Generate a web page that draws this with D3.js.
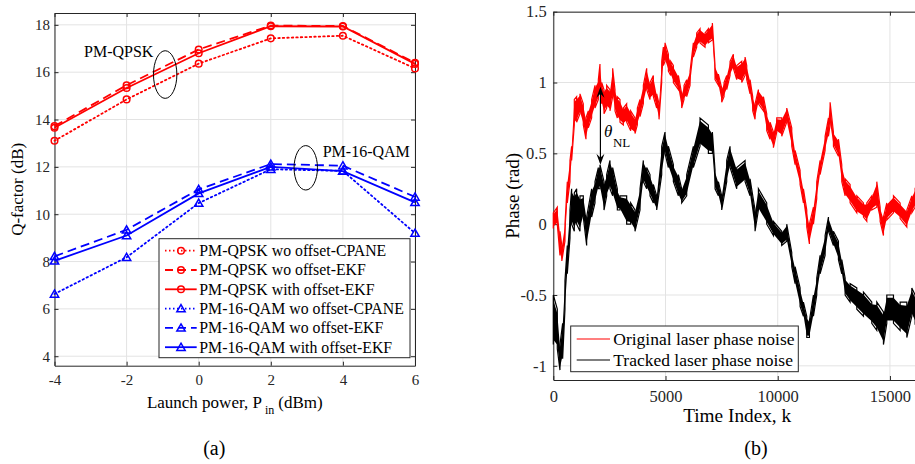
<!DOCTYPE html>
<html>
<head>
<meta charset="utf-8">
<script src="https://cdn.jsdelivr.net/npm/d3@7"></script>
<style>
  body { margin: 0; background: #fff; }
  svg { display: block; font-family: "Liberation Serif", "Times New Roman", serif; }
  svg text { font-family: "Liberation Serif", "Times New Roman", serif; }
</style>
</head>
<body>
<svg id="chart" width="915" height="464"></svg>
<script>
// (a) Q-factor vs launch power
const launchPower = [-4, -2, 0, 2, 4, 6];
const qpskCpane      = [13.1, 14.85, 16.36, 17.43, 17.54, 16.16];
const qpskEkf        = [13.72, 15.45, 16.96, 17.97, 17.95, 16.4];
const qpskOffsetEkf  = [13.65, 15.33, 16.8, 17.94, 17.93, 16.35];
const qamCpane       = [6.63, 8.18, 10.47, 11.9, 11.83, 9.2];
const qamEkf         = [8.22, 9.34, 11.05, 12.12, 12.05, 10.73];
const qamOffsetEkf   = [8.03, 9.1, 10.88, 12.0, 11.82, 10.5];
const xTicksA = [-4, -2, 0, 2, 4, 6];
const yTicksA = [4, 6, 8, 10, 12, 14, 16, 18];

// (b) laser phase noise, read as [k, low, high] envelope of the noisy trace
const originalPhase = [
  [0, -0.03, 0.08], [178, 0.0, 0.12], [297, -0.22, -0.05], [380, -0.26, -0.15], [520, -0.12, 0.0],
  [624, 0.15, 0.3], [743, 0.3, 0.45], [817, 0.45, 0.55], [936, 0.7, 0.88], [1040, 0.72, 0.9],
  [1189, 0.78, 0.92], [1337, 0.7, 0.85], [1456, 0.6, 0.75], [1560, 0.68, 0.8], [1709, 0.75, 0.88],
  [1858, 0.82, 0.98], [2006, 0.88, 1.02], [2080, 0.95, 1.13], [2155, 0.85, 1.0], [2259, 0.78, 0.95],
  [2378, 0.82, 0.98], [2526, 0.8, 0.95], [2645, 0.9, 1.1], [2749, 0.8, 0.95], [2853, 0.75, 0.9],
  [2972, 0.72, 0.88], [3121, 0.7, 0.82], [3269, 0.72, 0.85], [3448, 0.66, 0.8], [3641, 0.64, 0.75],
  [3745, 0.7, 0.82], [3864, 0.76, 0.88], [4012, 0.85, 0.98], [4161, 0.95, 1.1], [4309, 0.88, 1.0],
  [4458, 0.9, 1.05], [4607, 0.82, 0.92], [4711, 0.74, 0.85], [4830, 1.0, 1.15], [4904, 1.12, 1.25],
  [4978, 1.15, 1.28], [5127, 1.08, 1.2], [5231, 1.05, 1.15], [5350, 1.0, 1.12], [5573, 0.95, 1.05],
  [5721, 0.82, 0.92], [5825, 0.88, 0.98], [5944, 0.9, 1.02], [6093, 0.98, 1.08], [6241, 1.18, 1.28],
  [6390, 1.25, 1.35], [6538, 1.28, 1.38], [6761, 1.25, 1.35], [6910, 1.28, 1.38], [7088, 1.3, 1.42],
  [7207, 1.02, 1.12], [7356, 0.98, 1.06], [7504, 0.86, 0.96], [7608, 0.9, 1.0], [7727, 0.95, 1.05],
  [7876, 1.05, 1.15], [8024, 1.1, 1.2], [8173, 1.02, 1.12], [8396, 1.0, 1.15], [8545, 1.05, 1.18],
  [8619, 1.02, 1.12], [8767, 0.92, 1.02], [8886, 0.8, 0.9], [8990, 0.74, 0.85], [9139, 0.85, 0.95],
  [9362, 0.8, 0.9], [9510, 0.66, 0.78], [9659, 0.6, 0.72], [9808, 0.54, 0.65], [9956, 0.65, 0.75],
  [10179, 0.62, 0.75], [10402, 0.72, 0.82], [10625, 0.55, 0.68], [10774, 0.42, 0.52], [10996, 0.28, 0.38],
  [11145, 0.15, 0.25], [11294, -0.02, 0.1], [11412, -0.14, 0.0], [11591, 0.0, 0.12], [11739, 0.18, 0.3],
  [11888, 0.35, 0.45], [12111, 0.52, 0.62], [12260, 0.62, 0.75], [12334, 0.7, 0.86], [12482, 0.55, 0.65],
  [12705, 0.48, 0.6], [12854, 0.3, 0.42], [13003, 0.2, 0.32], [13225, 0.15, 0.28], [13523, 0.08, 0.2],
  [13820, 0.05, 0.15], [13968, 0.02, 0.15], [14191, 0.1, 0.2], [14414, 0.12, 0.3], [14563, 0.02, 0.12],
  [14711, -0.08, 0.05], [14860, 0.03, 0.15], [15157, 0.08, 0.2], [15454, 0.04, 0.15], [15752, -0.02, 0.1],
  [15975, 0.08, 0.2], [16123, 0.12, 0.25], [16384, 0.1, 0.22]
];
const trackedPhase = [
  [0, -0.85, -0.5], [178, -0.88, -0.6], [297, -1.03, -0.85], [416, -0.95, -0.7], [520, -0.6, -0.4],
  [624, -0.35, -0.15], [743, -0.1, 0.1], [817, 0.0, 0.25], [936, -0.05, 0.22], [1040, 0.0, 0.25],
  [1189, -0.05, 0.2], [1337, 0.05, 0.2], [1486, -0.15, 0.05], [1709, 0.05, 0.25], [1858, 0.15, 0.3],
  [2006, 0.25, 0.4], [2080, 0.25, 0.42], [2259, 0.1, 0.3], [2378, 0.2, 0.35], [2526, 0.25, 0.45],
  [2645, 0.2, 0.4], [2853, 0.1, 0.25], [2972, 0.1, 0.2], [3269, 0.0, 0.2], [3448, 0.0, 0.15],
  [3641, -0.05, 0.1], [3864, 0.1, 0.25], [4012, 0.3, 0.45], [4161, 0.25, 0.4], [4309, 0.2, 0.35],
  [4458, 0.15, 0.28], [4607, 0.1, 0.2], [4830, 0.35, 0.55], [4978, 0.5, 0.65], [5127, 0.4, 0.55],
  [5350, 0.3, 0.42], [5573, 0.2, 0.35], [5721, 0.15, 0.25], [5944, 0.2, 0.35], [6241, 0.4, 0.55],
  [6538, 0.55, 0.75], [6910, 0.5, 0.7], [7088, 0.5, 0.65], [7207, 0.25, 0.38], [7356, 0.2, 0.3],
  [7504, 0.1, 0.2], [7727, 0.3, 0.45], [7876, 0.4, 0.55], [8173, 0.25, 0.4], [8545, 0.3, 0.45],
  [8767, 0.2, 0.32], [8990, -0.05, 0.1], [9139, 0.1, 0.25], [9510, 0.0, 0.15], [9808, -0.08, 0.02],
  [10179, -0.15, -0.05], [10402, -0.12, 0.0], [10625, -0.3, -0.2], [10774, -0.42, -0.3], [10996, -0.58, -0.45],
  [11145, -0.65, -0.55], [11294, -0.8, -0.65], [11412, -0.8, -0.68], [11591, -0.65, -0.5], [11739, -0.5, -0.38],
  [11888, -0.35, -0.22], [12111, -0.22, -0.08], [12260, -0.05, 0.05], [12482, -0.15, -0.05], [12705, -0.25, -0.12],
  [12854, -0.35, -0.25], [13003, -0.5, -0.38], [13225, -0.55, -0.42], [13523, -0.6, -0.45], [13820, -0.65, -0.48],
  [14191, -0.7, -0.55], [14414, -0.75, -0.55], [14711, -0.85, -0.62], [14860, -0.7, -0.5], [15157, -0.7, -0.5],
  [15454, -0.75, -0.55], [15752, -0.8, -0.55], [15975, -0.65, -0.45], [16123, -0.7, -0.5], [16384, -0.65, -0.45]
];
const xTicksB = [0, 5000, 10000, 15000];
const yTicksB = [-1, -0.5, 0, 0.5, 1, 1.5];

const AXIS_COLOR = "#262626";
const GRID_COLOR = "#e3e3e3";
const RED = "#ff0000", BLUE = "#0000ff";
const SERIF = '"Liberation Serif", "Times New Roman", serif';

const svg = d3.select("#chart");

//Draws grid, box and inward ticks for one panel
function drawFrame(x, y, xTicks, yTicks, fontSize, padX, padY) {
  const [x0, x1] = x.range();
  const [y0, y1] = y.range();
  const g = svg.append("g");

  g.selectAll(".gx").data(xTicks).join("line")
    .attr("x1", d => x(d)).attr("x2", d => x(d))
    .attr("y1", y0).attr("y2", y1)
    .attr("stroke", GRID_COLOR);
  g.selectAll(".gy").data(yTicks).join("line")
    .attr("x1", x0).attr("x2", x1)
    .attr("y1", d => y(d)).attr("y2", d => y(d))
    .attr("stroke", GRID_COLOR);

  const axes = svg.append("g").attr("class", "axes");
  axes.append("g").attr("transform", `translate(0,${y0})`)
    .call(d3.axisBottom(x).tickValues(xTicks).tickSizeInner(-4).tickSizeOuter(0).tickPadding(padX).tickFormat(d => d));
  axes.append("g").attr("transform", `translate(0,${y1})`)
    .call(d3.axisTop(x).tickValues(xTicks).tickSizeInner(-4).tickSizeOuter(0).tickFormat(""));
  axes.append("g").attr("transform", `translate(${x0},0)`)
    .call(d3.axisLeft(y).tickValues(yTicks).tickSizeInner(-4).tickSizeOuter(0).tickPadding(padY).tickFormat(d => d));
  axes.append("g").attr("transform", `translate(${x1},0)`)
    .call(d3.axisRight(y).tickValues(yTicks).tickSizeInner(-4).tickSizeOuter(0).tickFormat(""));

  //d3 puts sans-serif on each axis group; switch back to the serif face
  axes.selectAll("g").attr("font-family", SERIF).attr("font-size", fontSize);
  axes.selectAll("path.domain").attr("stroke", AXIS_COLOR).attr("stroke-width", 1);
  axes.selectAll(".tick line").attr("stroke", AXIS_COLOR);
  axes.selectAll(".tick text")
    .attr("fill", AXIS_COLOR)
    .attr("font-family", SERIF)
    .attr("font-size", fontSize);
  return g;
}

function marker(sel, shape, color) {
  if (shape === "circle") {
    sel.append("circle").attr("r", 3.3)
      .attr("fill", "none").attr("stroke", color).attr("stroke-width", 1.5);
  } else {
    sel.append("path").attr("d", d3.symbol(d3.symbolTriangle, 30)())
      .attr("transform", "translate(0,0.8)")
      .attr("fill", "none").attr("stroke", color).attr("stroke-width", 1.5);
  }
}

// ---------- panel (a) ----------
const xA = d3.scaleLinear().domain([-4, 6]).range([54.5, 415]);
const yA = d3.scaleLinear().domain([3.6, 18.5]).range([365.7, 13]);
drawFrame(xA, yA, xTicksA, yTicksA, 15, 8.7, 4.5);

const seriesA = [
  { name: "PM-QPSK wo offset-CPANE", values: qpskCpane, color: RED, dash: "1.5,3", shape: "circle" },
  { name: "PM-QPSK wo offset-EKF", values: qpskEkf, color: RED, dash: "9,5", shape: "circle" },
  { name: "PM-QPSK with offset-EKF", values: qpskOffsetEkf, color: RED, dash: null, shape: "circle" },
  { name: "PM-16-QAM wo offset-CPANE", values: qamCpane, color: BLUE, dash: "1.5,3", shape: "tri" },
  { name: "PM-16-QAM wo offset-EKF", values: qamEkf, color: BLUE, dash: "9,5", shape: "tri" },
  { name: "PM-16-QAM with offset-EKF", values: qamOffsetEkf, color: BLUE, dash: null, shape: "tri" }
];

const lineA = d3.line().x((d, i) => xA(launchPower[i])).y(d => yA(d));
const plotA = svg.append("g");
seriesA.forEach(s => {
  plotA.append("path").datum(s.values)
    .attr("d", lineA)
    .attr("fill", "none")
    .attr("stroke", s.color)
    .attr("stroke-width", 1.8)
    .attr("stroke-linecap", s.dash && s.dash.startsWith("1.5") ? "round" : "butt")
    .attr("stroke-dasharray", s.dash);
  s.values.forEach((v, i) => {
    const m = plotA.append("g").attr("transform", `translate(${xA(launchPower[i])},${yA(v)})`);
    marker(m, s.shape, s.color);
  });
});

//Annotations: group labels with ellipses
plotA.append("text").attr("x", xA(-3.18)).attr("y", yA(16.63))
  .attr("font-size", 16).attr("fill", "#000").text("PM-QPSK");
plotA.append("ellipse").attr("cx", xA(-0.93)).attr("cy", yA(15.9))
  .attr("rx", 11.7).attr("ry", 23.8).attr("fill", "none").attr("stroke", "#000").attr("stroke-width", 1);
plotA.append("text").attr("x", xA(3.44)).attr("y", yA(12.43))
  .attr("font-size", 16).attr("fill", "#000").text("PM-16-QAM");
plotA.append("ellipse").attr("cx", xA(2.97)).attr("cy", yA(11.96))
  .attr("rx", 11.7).attr("ry", 22.2).attr("fill", "none").attr("stroke", "#000").attr("stroke-width", 1);

//Legend (a)
const legA = svg.append("g").attr("transform", "translate(159,238.7)");
legA.append("rect").attr("width", 251).attr("height", 119)
  .attr("fill", "#fff").attr("stroke", AXIS_COLOR).attr("stroke-width", 1);
seriesA.forEach((s, i) => {
  const row = legA.append("g").attr("transform", `translate(0,${12 + i * 19.3})`);
  row.append("line").attr("x1", 6).attr("x2", 37.7)
    .attr("stroke", s.color).attr("stroke-width", 1.8)
    .attr("stroke-dasharray", s.dash ? (s.dash.startsWith("1.5") ? "1.5,2.5" : "8,5") : null);
  const m = row.append("g").attr("transform", "translate(22,0)");
  marker(m, s.shape, s.color);
  row.append("text").attr("x", 40.3).attr("y", 5.3)
    .attr("font-size", 15.8).attr("fill", "#000").text(s.name);
});

//Axis labels (a)
const xLabA = svg.append("text").attr("x", (54.5 + 415) / 2).attr("y", 408)
  .attr("text-anchor", "middle").attr("font-size", 17).attr("fill", "#000");
xLabA.append("tspan").text("Launch power, P");
xLabA.append("tspan").attr("font-size", 12).attr("dx", 3).attr("dy", 6).text("in");
xLabA.append("tspan").attr("dx", 4).attr("dy", -6).text("(dBm)");
svg.append("text").attr("transform", `translate(23,${(13 + 365.7) / 2}) rotate(-90)`)
  .attr("text-anchor", "middle").attr("font-size", 17).attr("fill", "#000").text("Q-factor (dB)");
svg.append("text").attr("x", 214.3).attr("y", 455).attr("text-anchor", "middle")
  .attr("font-size", 20).attr("fill", "#000").text("(a)");

// ---------- panel (b) ----------
const xB = d3.scaleLinear().domain([0, 16384]).range([553.3, 921]);
const yB = d3.scaleLinear().domain([-1.1, 1.5]).range([380, 11.7]);
drawFrame(xB, yB, xTicksB, yTicksB, 16.5, 10.3, 6.6);

//Noisy trace: walk low -> high at each reading, then on to the next reading
function sawtooth(data) {
  const pts = [];
  data.forEach((d, i) => {
    if (i % 2 === 0) { pts.push([d[0], d[1]], [d[0], d[2]]); }
    else { pts.push([d[0], d[2]], [d[0], d[1]]); }
  });
  return pts;
}
const traceB = d3.line().x(d => xB(d[0])).y(d => yB(d[1]));
const bandB = d3.area().x(d => xB(d[0])).y0(d => yB(d[1])).y1(d => yB(d[2]));
const plotB = svg.append("g");
[[originalPhase, RED, 0.8], [trackedPhase, "#000", 0.8]].forEach(([data, color, core]) => {
  //thin core band so the trace keeps its body
  plotB.append("path").datum(data.map(d => [d[0], d[1] + (d[2] - d[1]) * (1 - core) / 2, d[2] - (d[2] - d[1]) * (1 - core) / 2]))
    .attr("d", bandB)
    .attr("fill", color);
  plotB.append("path").datum(sawtooth(data))
    .attr("d", traceB)
    .attr("fill", "none")
    .attr("stroke", color)
    .attr("stroke-width", 1.2)
    .attr("stroke-linejoin", "miter");
});

//Annotation: theta_NL arrow
const arrowX = xB(2100), arrowTop = yB(0.97), arrowBot = yB(0.42);
plotB.append("line").attr("x1", arrowX).attr("x2", arrowX)
  .attr("y1", arrowTop + 2).attr("y2", arrowBot - 2).attr("stroke", "#000").attr("stroke-width", 1.2);
plotB.append("path")
  .attr("d", `M${arrowX},${arrowTop} L${arrowX - 4},${arrowTop + 11} L${arrowX},${arrowTop + 7} L${arrowX + 4},${arrowTop + 11} Z`)
  .attr("fill", "#000");
plotB.append("path")
  .attr("d", `M${arrowX},${arrowBot} L${arrowX - 4},${arrowBot - 11} L${arrowX},${arrowBot - 7} L${arrowX + 4},${arrowBot - 11} Z`)
  .attr("fill", "#000");
plotB.append("text").attr("x", arrowX + 3.5).attr("y", 136.7)
  .attr("font-size", 17).attr("font-style", "italic").attr("fill", "#000").text("θ");
plotB.append("text").attr("x", arrowX + 12.5).attr("y", 146.5)
  .attr("font-size", 13).attr("fill", "#000").text("NL");

//Legend (b)
const legendB = [["Original laser phase noise", RED], ["Tracked laser phase noise", "#000"]];
const legB = svg.append("g").attr("transform", "translate(570.7,326)");
legB.append("rect").attr("width", 227.6).attr("height", 45.7)
  .attr("fill", "#fff").attr("stroke", AXIS_COLOR).attr("stroke-width", 1);
legendB.forEach(([name, color], i) => {
  const row = legB.append("g").attr("transform", `translate(0,${13 + i * 21})`);
  row.append("line").attr("x1", 6).attr("x2", 39.3).attr("stroke", color).attr("stroke-width", 1.2);
  row.append("text").attr("x", 42.6).attr("y", 6).attr("font-size", 17.5).attr("fill", "#000").text(name);
});

//Axis labels (b)
svg.append("text").attr("x", (553.3 + 921) / 2).attr("y", 421.7).attr("text-anchor", "middle")
  .attr("font-size", 19.3).attr("fill", "#000").text("Time Index, k");
svg.append("text").attr("transform", `translate(519,${(11.7 + 380) / 2}) rotate(-90)`)
  .attr("text-anchor", "middle").attr("font-size", 19).attr("fill", "#000").text("Phase (rad)");
svg.append("text").attr("x", 756).attr("y", 455).attr("text-anchor", "middle")
  .attr("font-size", 20).attr("fill", "#000").text("(b)");
</script>
</body>
</html>
